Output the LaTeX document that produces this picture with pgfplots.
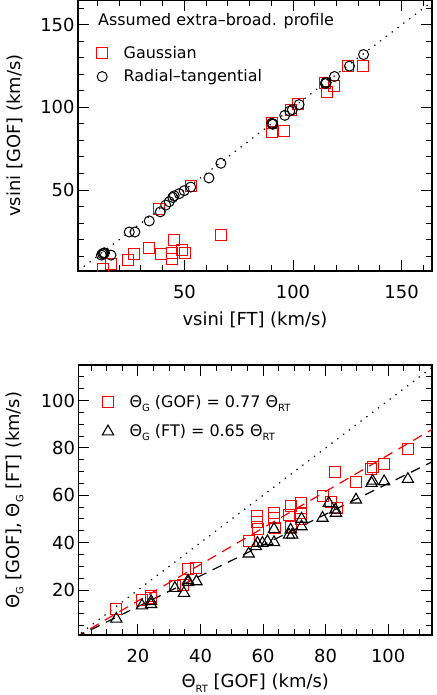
\documentclass[border=0pt]{standalone}
\usepackage{pgfplots}
\pgfplotsset{compat=1.18}
\usepackage{fontspec}
\setmainfont{DejaVu Sans}
\newcommand\sub[1]{\raisebox{-0.45ex}{\fontsize{10}{10}\selectfont #1}}
\newcommand\bigf{\fontsize{18}{21}\selectfont}
\newcommand\leg{\fontsize{16}{19}\selectfont}

\pgfplotsset{
  idl/.style={
    scale only axis,
    axis line style={line width=1.2bp},
    tick align=inside,
    tick pos=both,
    xticklabel pos=bottom,
    yticklabel pos=left,
    major tick length=11bp,
    minor tick length=6bp,
    every tick/.style={black, line width=1bp},
    tick label style={font=\bigf},
    xticklabel style={yshift=-11bp},
    /pgf/number format/assume math mode=true,
    label style={font=\bigf},
    clip marker paths=true,
    legend style={draw=none, fill=none, font=\leg, anchor=north west,
      nodes={inner sep=0pt}, column sep=16bp},
    legend cell align=left,
  },
  mk/.style={only marks, legend image code/.code={\draw[##1] plot coordinates {(0bp,0bp)};}},
  sq/.style={mk, mark=square, mark size=5.5bp, red, mark options={line width=1bp}},
  ci/.style={mk, mark=o, mark size=5bp, black, mark options={line width=1bp}},
  tr/.style={mk, mark=triangle, mark size=6.5bp, black, mark options={line width=1.1bp}},
}

\begin{document}
\begin{tikzpicture}

% top panel
\begin{axis}[idl,
  name=top, at={(0,0)}, anchor=north west,
  width=354bp, height=271bp,
  xmin=1, xmax=164, ymin=1, ymax=165,
  xtick={50,100,150}, ytick={50,100,150},
  minor xtick={10,20,...,160}, minor ytick={10,20,...,160},
  xlabel={vsini [FT] (km/s)}, ylabel={vsini [GOF] (km/s)},
  xlabel style={at={(axis description cs:0.5,0)}, anchor=center, yshift=-49bp},
  ylabel style={at={(axis description cs:-0.178,0.5)}, anchor=center},
  legend style={at={(axis description cs:0,1)}, xshift=15.5bp, yshift=-44bp, row sep=10bp},
]
\addplot[black, dash pattern=on 1.3bp off 6bp, line width=1.2bp, forget plot]
  coordinates {(1,1) (165,165)};
\addplot[sq] coordinates {
(132.1,125.2) (125.4,125.0) (119.1,112.9) (115.7,109.4) (114.9,114.5)
(102.3,101.9) (98.9,98.2) (95.8,85.7) (90.5,84.9) (90.5,90.6)
(52.9,52.2) (38.4,38.4) (66.7,22.8) (45.0,19.6) (48.8,13.7)
(50.1,11.7) (33.8,14.7) (39.4,11.0) (44.5,11.7) (44.2,8.4)
(26.9,11.0) (24.2,7.6) (16.2,5.0) (12.4,2.5) (12.2,0.5)
(42.2,-1) (46.8,-1) (61.3,-1)
};
\addlegendentry{Gaussian}
\addplot[ci] coordinates {
(132.5,132) (126,125) (119.1,118.7) (115.3,114.9) (114.9,114.4)
(115.1,115.2) (102.8,101.7) (99.7,98.6) (98.5,97.8) (96.2,95.2)
(90.5,90.1) (90.2,90.5) (90.7,89.8) (66.8,66.2) (61.3,57.3)
(52.9,51.8) (49.9,49.6) (47.6,47.8) (45.3,46.5) (44.6,45.5)
(43.0,42.9) (41.4,40.9) (38.9,36.8) (33.8,31.3) (27.2,24.6)
(24.6,24.6) (13.2,12.0) (12.3,11.4) (12.8,11.8) (11.8,10.6)
(16.2,10.6)
};
\addlegendentry{Radial--tangential}
\node[anchor=west, font=\leg, inner sep=0pt] at ([xshift=20bp,yshift=-21bp]rel axis cs:0,1)
  {Assumed extra--broad. profile};
\end{axis}

% bottom panel
\begin{axis}[idl,
  name=bot, at={(0.5bp,-365bp)}, anchor=north west,
  width=353.5bp, height=270bp,
  xmin=1, xmax=114, ymin=1, ymax=115,
  xtick={20,40,...,100}, ytick={20,40,...,100},
  minor xtick={5,10,...,110}, minor ytick={5,10,...,110},
  xlabel={Θ\sub{RT} [GOF] (km/s)},
  ylabel={Θ\sub{G} [GOF], Θ\sub{G} [FT] (km/s)},
  xlabel style={at={(axis description cs:0.5,0)}, anchor=center, yshift=-48bp},
  ylabel style={at={(axis description cs:-0.181,0.5)}, anchor=center},
  legend style={at={(axis description cs:0,1)}, xshift=20.7bp, yshift=-28bp, row sep=16bp},
]
\addplot[black, dash pattern=on 1.3bp off 6bp, line width=1.2bp, forget plot]
  coordinates {(0,0) (115,115)};
\addplot[red, dash pattern=on 10bp off 7bp, line width=1.2bp, forget plot]
  coordinates {(0,0) (114,87.78)};
\addplot[black, dash pattern=on 10bp off 7bp, line width=1.2bp, forget plot]
  coordinates {(0,0) (114,74.1)};
\addplot[sq] coordinates {
(106.3,79.5) (98.7,73.2) (95.2,71.9) (94.5,71.3) (82.9,70.0)
(89.8,65.8) (79.0,59.8) (81.7,57.0) (83.6,54.6) (72.0,56.7)
(72.0,52.5) (72.0,50.0) (68.8,55.3) (68.3,51.8) (68.8,46.8)
(63.5,52.5) (63.5,50.4) (63.8,46.2) (58.2,51.1) (58.2,48.9)
(58.5,45.7) (55.6,40.5) (38.7,29.3) (36.0,29.0) (34.5,22.2)
(31.8,21.5) (24.1,17.3) (24.3,16.5) (21.3,15.6) (13.1,12.0)
};
\addlegendentry{Θ\sub{G} (GOF) = 0.77 Θ\sub{RT}}
\addplot[tr] coordinates {
(106.3,66.8) (98.7,65.8) (95.0,66.1) (94.7,65.1) (89.7,58.1)
(81.0,56.7) (83.1,53.9) (83.3,52.5) (79.0,50.4) (72.3,50.0)
(72.3,46.8) (68.8,45.4) (68.3,43.3) (69.3,43.3) (63.5,45.7)
(63.5,40.1) (61.4,40.5) (59.8,39.8) (58.2,39.8) (57.7,38.4)
(55.4,35.3) (38.7,23.6) (36.0,23.2) (36.0,24.0) (34.7,18.7)
(31.8,20.8) (24.2,15.2) (24.2,14.0) (21.3,13.4) (13.1,7.8)
};
\addlegendentry{Θ\sub{G} (FT) = 0.65 Θ\sub{RT}}
\end{axis}

\pgfresetboundingbox
\useasboundingbox (-78bp,0bp) rectangle (359bp,-695bp);
\end{tikzpicture}
\end{document}
